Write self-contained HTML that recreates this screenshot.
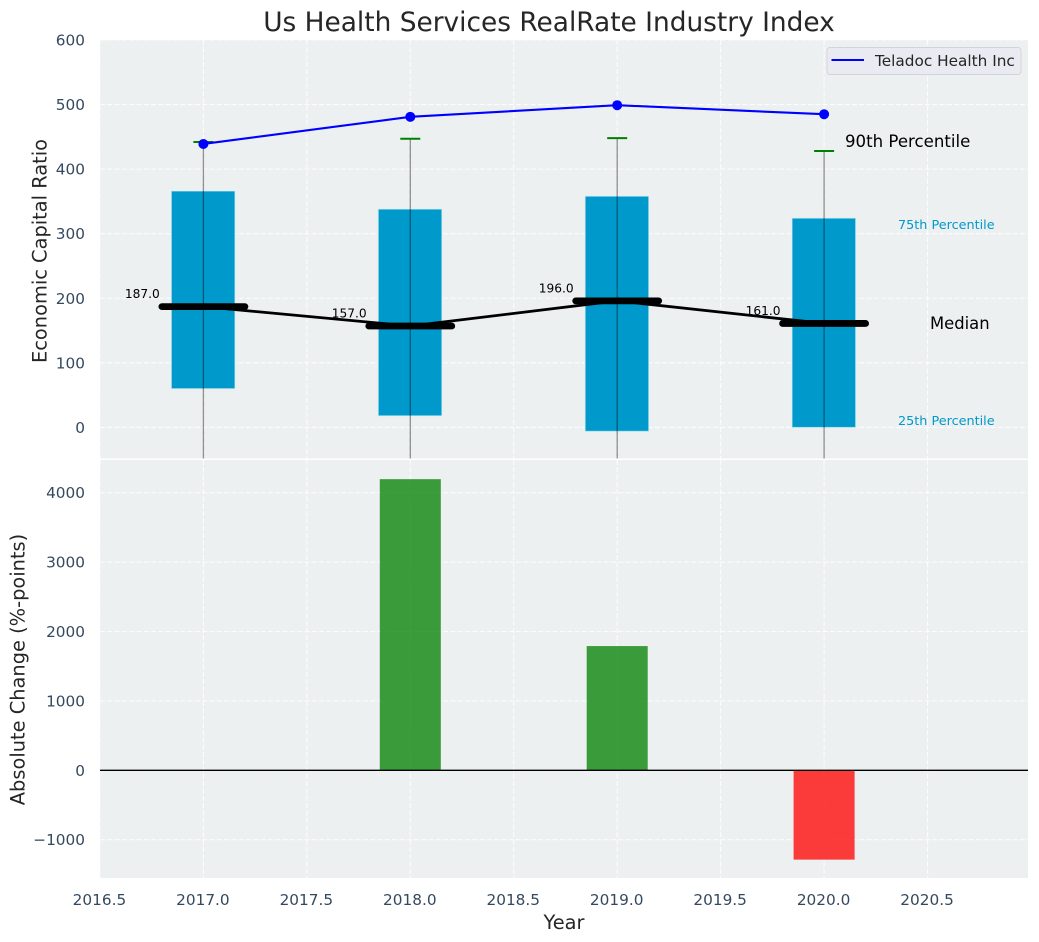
<!DOCTYPE html>
<html>
<head>
<meta charset="utf-8">
<style>
html,body{margin:0;padding:0;background:#fff;}
svg{display:block;font-family:"DejaVu Sans","Liberation Sans",sans-serif;}
</style>
</head>
<body>
<svg id="chart" xmlns="http://www.w3.org/2000/svg" width="1039" height="942" viewBox="0 0 1039 942">
  <defs>
    <clipPath id="clip-top"><rect x="100" y="40" width="928" height="418.5"/></clipPath>
    <clipPath id="clip-bottom"><rect x="100" y="460" width="928" height="418"/></clipPath>
  </defs>
  <rect width="1039" height="942" fill="#ffffff"/>
  <rect x="100" y="40" width="928" height="418.5" fill="#ecf0f1"/>
  <rect x="100" y="460" width="928" height="418" fill="#ecf0f1"/>
  <g id="top-layer" clip-path="url(#clip-top)"></g>
  <g id="bottom-layer" clip-path="url(#clip-bottom)"></g>
  <g id="label-layer"></g>

  <text x="549" y="31" text-anchor="middle" font-size="26.4px" fill="#262626">Us Health Services RealRate Industry Index</text>
  <text transform="translate(46.5,251) rotate(-90)" text-anchor="middle" font-size="19.4px" fill="#262626">Economic Capital Ratio</text>
  <text transform="translate(24.5,669.5) rotate(-90)" text-anchor="middle" font-size="19.4px" fill="#262626">Absolute Change (%-points)</text>
  <text x="564" y="929" text-anchor="middle" font-size="19.4px" fill="#262626">Year</text>

  <text x="845" y="147" font-size="16.6px" fill="#000000">90th Percentile</text>
  <text x="898" y="229" font-size="12.8px" fill="#0099cc">75th Percentile</text>
  <text x="930" y="329" font-size="16.4px" fill="#000000">Median</text>
  <text x="898" y="425" font-size="12.8px" fill="#0099cc">25th Percentile</text>

  <g>
    <rect x="827" y="47.5" width="194" height="27" rx="3" fill="#eaeaf2" stroke="#d4d4d8" stroke-width="1"/>
    <line x1="831.5" x2="864" y1="60" y2="60" stroke="#0000ff" stroke-width="2.1"/>
    <text x="875" y="66" font-size="15.3px" fill="#262626">Teladoc Health Inc</text>
  </g>
</svg>
<script>
const years = [2017, 2018, 2019, 2020];
const q75 = [366, 338, 358, 324];
const q25 = [60, 18, -6, 0];
const p90 = [442, 447, 448, 428];
const p10 = [-120, -130, -140, -110];
const medians = [187, 157, 196, 161];
const medianLabels = ["187.0", "157.0", "196.0", "161.0"];
const company = [439, 481, 499, 485];
const changeYears = [2018, 2019, 2020];
const changes = [4195, 1790, -1287];
const xTicks = [2016.5, 2017, 2017.5, 2018, 2018.5, 2019, 2019.5, 2020, 2020.5];
const xTickLabels = ["2016.5", "2017.0", "2017.5", "2018.0", "2018.5", "2019.0", "2019.5", "2020.0", "2020.5"];
const topTicks = [0, 100, 200, 300, 400, 500, 600];
const bottomTicks = [-1000, 0, 1000, 2000, 3000, 4000];
const bottomTickLabels = ["\u22121000", "0", "1000", "2000", "3000", "4000"];

const NS = "http://www.w3.org/2000/svg";
const x = v => 203.4 + (v - 2017) * 206.9;
const yTop = v => 427.4 - v * 0.6457;
const yBottom = v => 770.3 - v * 0.0694;

const topLayer = document.getElementById("top-layer");
const bottomLayer = document.getElementById("bottom-layer");
const labelLayer = document.getElementById("label-layer");

function mk(parent, tag, props, text) {
  const el = document.createElementNS(NS, tag);
  for (const k in props) el.setAttribute(k, props[k]);
  if (text !== undefined) el.textContent = text;
  parent.appendChild(el);
  return el;
}

const gridStyle = {stroke: "#ffffff", "stroke-width": 1.1, "stroke-dasharray": "5.1 2.2", opacity: 0.85};

/* grid lines and x tick labels */
xTicks.forEach((t, i) => {
  const g1 = mk(topLayer, "line", Object.assign({x1: x(t), x2: x(t), y1: 40, y2: 458.5}, gridStyle));
  
  
  const g2 = mk(bottomLayer, "line", Object.assign({x1: x(t), x2: x(t), y1: 460, y2: 878}, gridStyle));
  
  
  const l = mk(labelLayer, "text", {x: x(t) - 0.5, y: 905, "text-anchor": "middle", "font-size": "15.3px", fill: "#34495e"}, xTickLabels[i]);
  
  
});
topTicks.forEach(t => {
  const g = mk(topLayer, "line", Object.assign({x1: 100, x2: 1028, y1: yTop(t), y2: yTop(t)}, gridStyle));
  
  
  const l = mk(labelLayer, "text", {x: 85, y: yTop(t) + 5.5, "text-anchor": "end", "font-size": "15.3px", fill: "#34495e"}, String(t));
  
  
});
bottomTicks.forEach((t, i) => {
  const g = mk(bottomLayer, "line", Object.assign({x1: 100, x2: 1028, y1: yBottom(t), y2: yBottom(t)}, gridStyle));
  
  
  const l = mk(labelLayer, "text", {x: 85, y: yBottom(t) + 5.5, "text-anchor": "end", "font-size": "15.3px", fill: "#34495e"}, bottomTickLabels[i]);
  
  
});

/* percentile boxes */
years.forEach((yr, i) => {
  const box = mk(topLayer, "rect", {x: x(yr) - 32, y: yTop(q75[i]), width: 63.5, height: yTop(q25[i]) - yTop(q75[i]), fill: "#0099cc", stroke: "#ccecf5", "stroke-opacity": 0.6, "stroke-width": 1});
  
  
});
/* whiskers and caps */
years.forEach((yr, i) => {
  const w = mk(topLayer, "line", {x1: x(yr), x2: x(yr), y1: yTop(p90[i]), y2: yTop(p10[i]), stroke: "#000000", "stroke-opacity": 0.42, "stroke-width": 1.3});
  
  
  const c = mk(topLayer, "line", {x1: x(yr) - 10, x2: x(yr) + 10, y1: yTop(p90[i]), y2: yTop(p90[i]), stroke: "#008000", "stroke-width": 2});
  
  
});
/* median trend line */
const medianLine = mk(topLayer, "polyline", {points: years.map((yr, i) => x(yr) + "," + yTop(medians[i])).join(" "), fill: "none", stroke: "#000000", "stroke-width": 2.8});


/* thick median markers */
years.forEach((yr, i) => {
  const m = mk(topLayer, "line", {x1: x(yr) - 41.5, x2: x(yr) + 41.5, y1: yTop(medians[i]), y2: yTop(medians[i]), stroke: "#000000", "stroke-width": 6.8, "stroke-linecap": "round"});
  
  
  const t = mk(topLayer, "text", {x: x(yr) - 78.5, y: yTop(medians[i]) - 8.5, "font-size": "12.2px", fill: "#000000"}, medianLabels[i]);
  
  
});
/* company line */
const companyLine = mk(topLayer, "polyline", {points: years.map((yr, i) => x(yr) + "," + yTop(company[i])).join(" "), fill: "none", stroke: "#0000ff", "stroke-width": 2.1});


years.forEach((yr, i) => {
  const p = mk(topLayer, "circle", {cx: x(yr), cy: yTop(company[i]), r: 5, fill: "#0000ff"});
  
  
});

/* change bars */
changeYears.forEach((yr, i) => {
  const v = changes[i];
  const b = mk(bottomLayer, "rect", {x: x(yr) - 30.5, y: Math.min(yBottom(v), yBottom(0)), width: 61, height: Math.abs(yBottom(v) - yBottom(0)), fill: v >= 0 ? "#008000" : "#ff0000", "fill-opacity": 0.76});
  
  
});
const zero = mk(bottomLayer, "line", {x1: 100, x2: 1028, y1: yBottom(0), y2: yBottom(0), stroke: "#000000", "stroke-width": 1.3});


</script>
</body>
</html>
